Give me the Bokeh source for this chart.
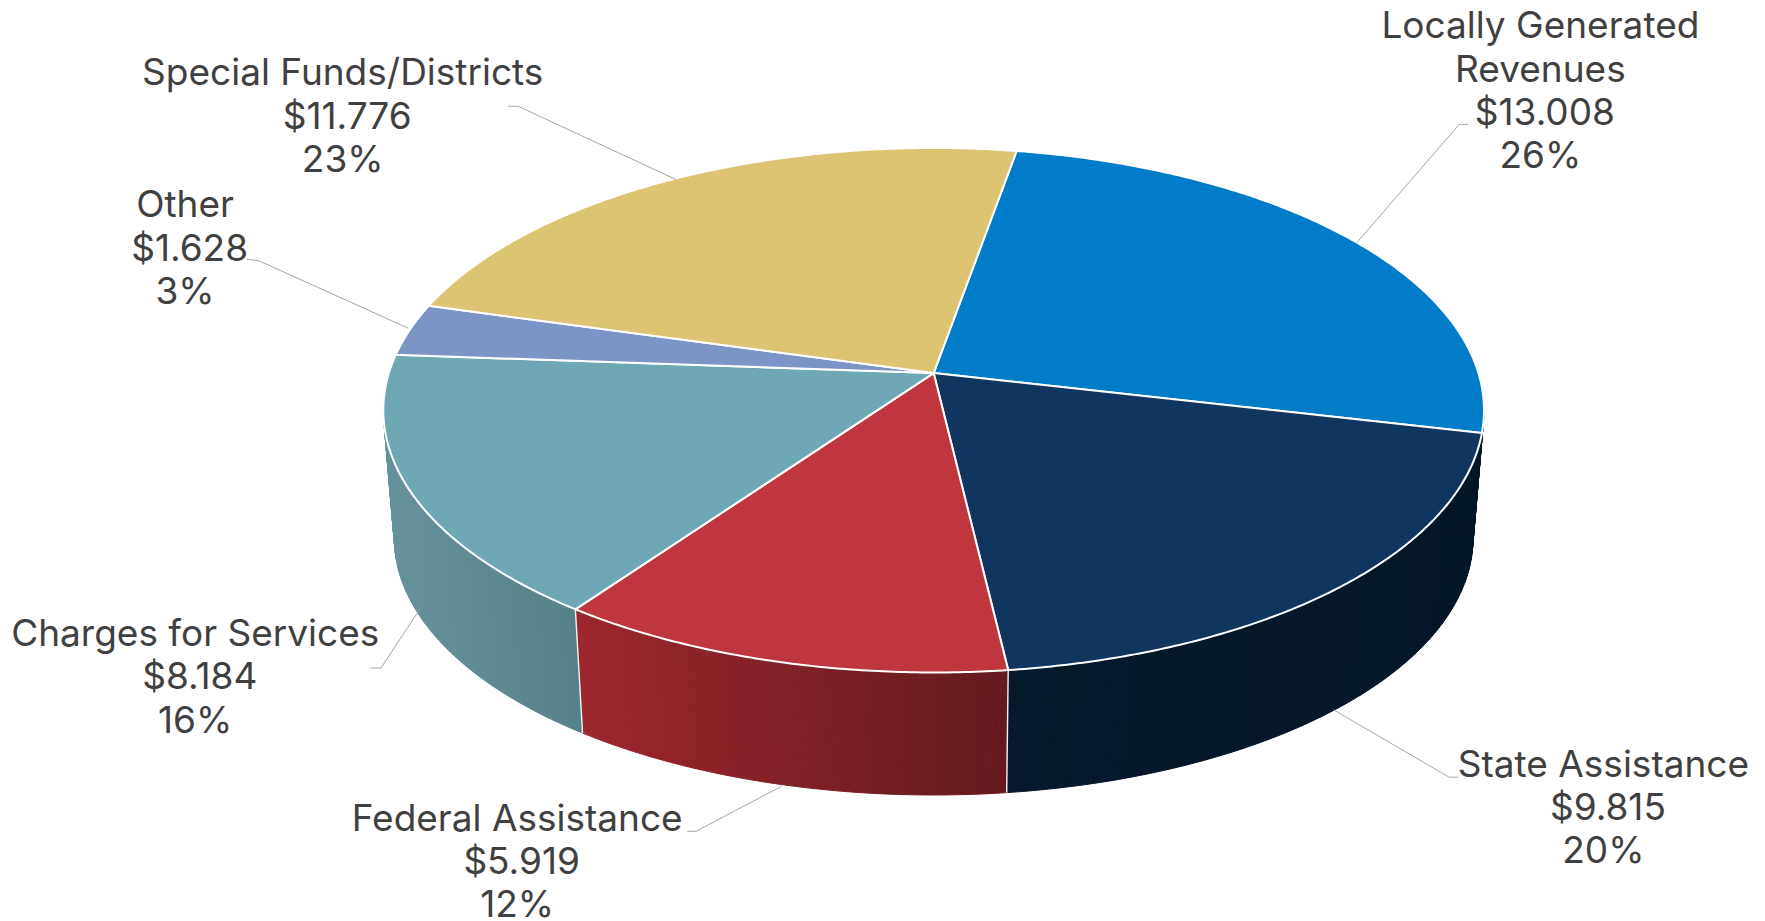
import math
from bokeh.plotting import figure
from bokeh.models import Range1d
from bokeh.core.properties import value
from bokeh.embed import file_html
from bokeh.resources import INLINE

# ---------- data ----------
categories = ["Locally Generated\nRevenues", "State Assistance", "Federal Assistance",
              "Charges for Services", "Other", "Special Funds/Districts"]
amounts = [13.008, 9.815, 5.919, 8.184, 1.628, 11.776]
percents = ["26%", "20%", "12%", "16%", "3%", "23%"]
top_colors = ["#007CC9", "#10355F", "#C0363F", "#6FA8B5", "#7D94C7", "#DCC473"]
wall_left = ["#041626", "#06192C", "#9C272D", "#66939B", "#66939B", "#66939B"]
wall_right = ["#041626", "#041626", "#631A1F", "#558288", "#558288", "#558288"]

# ---------- layout (reference pixels) ----------
F = 1765 / 1568
CX, CY = 829 * F, 331 * F
A, B, K = 544.8, 257.0, 0.1416
START = 10.0
DROP, SHRINK = 128.5, 0.98
TEXT = "#404040"
LINE_H = 43.4

def top_pt(deg):
    t = math.radians(deg)
    X, Y = math.sin(t), math.cos(t)
    w = 1 + K * Y
    return CX + A * X / w, CY - B * Y / w

def bot_pt(deg):
    x, y = top_pt(deg)
    return CX + (x - CX) * SHRINK, CY + DROP + (y - CY) * SHRINK

def lerp_hex(c1, c2, u):
    a = [int(c1[i:i + 2], 16) for i in (1, 3, 5)]
    b = [int(c2[i:i + 2], 16) for i in (1, 3, 5)]
    return "#%02x%02x%02x" % tuple(round(p + (q - p) * u) for p, q in zip(a, b))

total = sum(amounts)
edges = [START]
for v in amounts:
    edges.append(edges[-1] + v / total * 360)

p = figure(width=1765, height=921, output_backend="svg", toolbar_location=None,
           x_range=Range1d(0, 1765), y_range=Range1d(921, 0),
           min_border=0, outline_line_color=None, background_fill_color="white")
p.axis.visible = False
p.grid.visible = False

# ---------- side wall, front part only ----------
WALL_END = 262.0
xs, ys, cols = [], [], []
for i in range(6):
    a0, a1 = edges[i], min(edges[i + 1], WALL_END)
    if a0 >= WALL_END or edges[i + 1] <= 98:
        continue
    a0 = max(a0, 98.0)
    n = max(2, int((a1 - a0) / 0.7))
    x_l = min(top_pt(a0)[0], top_pt(a1)[0])
    x_r = max(top_pt(a0)[0], top_pt(a1)[0])
    for j in range(n):
        s0 = a0 + (a1 - a0) * j / n
        s1 = a0 + (a1 - a0) * (j + 1) / n
        t0, t1, b0, b1 = top_pt(s0), top_pt(s1), bot_pt(s0), bot_pt(s1)
        xs.append([t0[0], t1[0], b1[0], b0[0]])
        ys.append([t0[1], t1[1], b1[1], b0[1]])
        u = ((t0[0] + t1[0]) / 2 - x_l) / (x_r - x_l)
        cols.append(lerp_hex(wall_left[i], wall_right[i], u))
p.patches(xs, ys, fill_color=cols, line_color=cols, line_width=1)

# white seams on the wall
for e in (edges[2], edges[3]):
    t, b = top_pt(e), bot_pt(e)
    p.line([t[0], b[0]], [t[1], b[1]], line_color="#F2F2F2", line_width=1.4)

# ---------- top face ----------
fx, fy = [], []
for i in range(6):
    n = int((edges[i + 1] - edges[i]) * 2) + 2
    pts = [top_pt(edges[i] + (edges[i + 1] - edges[i]) * j / n) for j in range(n + 1)]
    fx.append([CX] + [q[0] for q in pts])
    fy.append([CY] + [q[1] for q in pts])
p.patches(fx, fy, fill_color=top_colors, line_color="white", line_width=2, line_join="round")

# ---------- leader lines ----------
leaders_x = [[1205, 1296, 1304], [1184, 1287, 1295], [694, 618, 610],
             [373, 338, 329], [362, 229, 219], [600, 460, 451]]
leaders_y = [[215, 110, 110], [630, 690, 690], [698, 738, 738],
             [540, 593, 593], [291, 231, 230], [159, 94, 94]]
p.multi_line([[x * F for x in r] for r in leaders_x],
             [[y * F for y in r] for r in leaders_y],
             line_color="#A6A6A6", line_width=1)

# ---------- labels ----------
label_cx = [1368, 1424, 459, 173, 164, 304]
label_base = [34, 690, 738, 574, 193, 76]
tx, ty, tt = [], [], []
for i, c in enumerate(categories):
    lines = c.split("\n") + ["$%.3f" % amounts[i], percents[i]]
    for j, s in enumerate(lines):
        dx = 4 if s.startswith("$") else 0
        tx.append((label_cx[i] + dx) * F)
        ty.append((label_base[i] - 12.5) * F + j * LINE_H)
        tt.append(s)
p.text(x=tx, y=ty, text=tt, text_align="center", text_baseline="alphabetic",
       text_color=TEXT, text_font=value("Inter"), text_font_size="37px")

open("out.html", "w").write(file_html(p, INLINE))
